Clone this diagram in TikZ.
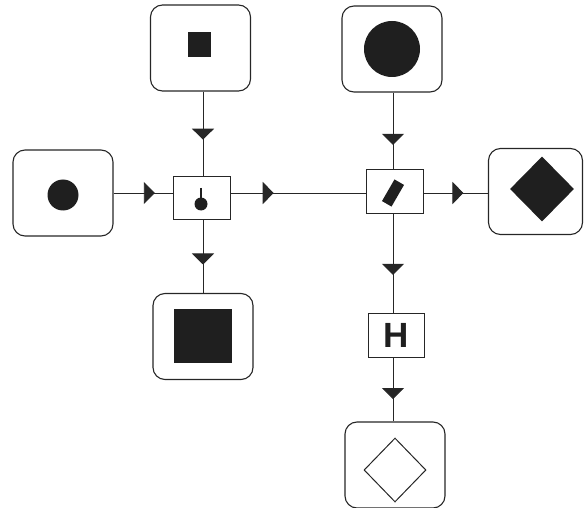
\documentclass[tikz,border=0pt]{standalone}
\usepackage{fontspec}
\setmainfont{Liberation Sans}
\usetikzlibrary{arrows.meta,decorations.markings,shapes.geometric}
\tikzset{
  box/.style={draw=black!85,line width=1.1pt,rounded corners=12pt,minimum width=100pt,minimum height=86pt,inner sep=0pt},
  jbox/.style={draw=black!85,line width=1pt,minimum width=57pt,minimum height=43pt,inner sep=0pt},
  ink/.style={fill=black!88},
  conn/.style={draw=black!85,line width=0.9pt},
  tipat/.style={postaction={decorate},decoration={markings,mark=at position #1 with {\arrow{Triangle[width=22pt,length=11pt]}}}}
}
\begin{document}
\begin{tikzpicture}[x=1pt,y=-1pt]
\useasboundingbox (0,0) rectangle (584,508);
% nodes
\node[box] (tl) at (200.5,48) {};
\node[box] (l) at (63,193) {};
\node[box] (tr) at (392,49) {};
\node[box,minimum width=94pt] (r) at (535.5,191.5) {};
\node[box] (bl) at (203,336.5) {};
\node[box] (bd) at (395,465) {};
\node[jbox] (j1) at (201.5,198) {};
\node[jbox] (j2) at (394.5,191.5) {};
\node[jbox,minimum width=56pt,minimum height=44pt,text=black!88,font=\fontsize{35}{35}\selectfont\bfseries] (h) at (396,335) {H};
% guide coordinates
\coordinate (hy) at (0,193);
\coordinate (vx1) at (203,0);
\coordinate (vx2) at (393,0);
% connectors
\draw[conn,tipat=0.57] (vx1 |- tl.south) -- (vx1 |- j1.north);
\draw[conn,tipat=0.70] (l.east |- hy) -- (j1.west |- hy);
\draw[conn,tipat=0.32] (j1.east |- hy) -- (j2.west |- hy);
\draw[conn,tipat=0.68] (vx2 |- tr.south) -- (vx2 |- j2.north);
\draw[conn,tipat=0.62] (j2.east |- hy) -- (r.west |- hy);
\draw[conn,tipat=0.61] (vx1 |- j1.south) -- (vx1 |- bl.north);
\draw[conn,tipat=0.62] (vx2 |- j2.south) -- (vx2 |- h.north);
\draw[conn,tipat=0.65] (vx2 |- h.south) -- (vx2 |- bd.north);
% symbols
\fill[ink] (187.5,32.5) rectangle (210.5,57.5);
\fill[ink] (63,195) circle[radius=15.5];
\draw[black!88,line width=1.3pt] (201,188) -- (201,203);
\fill[ink] (201,204) circle[radius=6.5];
\fill[ink] (392,49) circle[radius=28];
\node[ink,rotate=-30,minimum width=11pt,minimum height=25pt,inner sep=0pt] (bar) at (393,193) {};
\node[ink,diamond,minimum width=64pt,minimum height=65pt,inner sep=0pt] (dfill) at (542,189) {};
\fill[ink] (174,309) rectangle (232,363);
\node[draw=black!85,line width=1pt,diamond,minimum width=62pt,minimum height=64pt,inner sep=0pt] (dopen) at (395,470) {};
\end{tikzpicture}
\end{document}
